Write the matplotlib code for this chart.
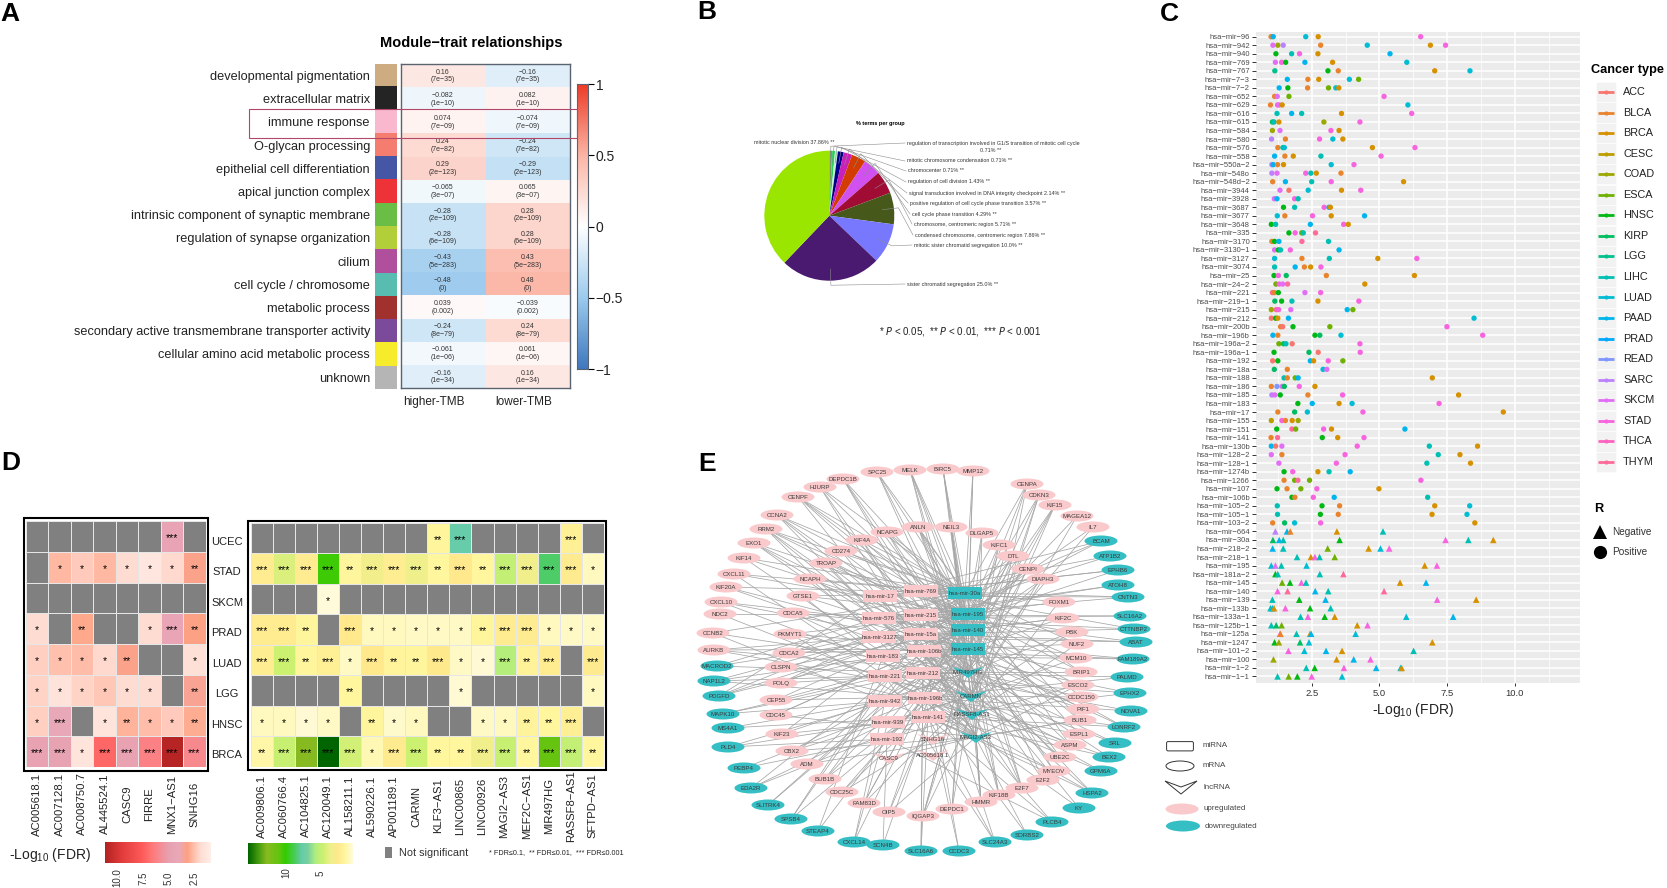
import numpy as np
import matplotlib
matplotlib.use('Agg')
from matplotlib import pyplot as plt
from matplotlib.collections import LineCollection
from matplotlib.colors import LinearSegmentedColormap, ListedColormap
from matplotlib.patches import Ellipse, Polygon, Rectangle, FancyBboxPatch

plt.rcParams['font.family'] = ['Liberation Sans', 'DejaVu Sans']
plt.rcParams['mathtext.default'] = 'regular'

W, H = 1667, 888
MINUS = '\u2212'

# panel A
module_names = ['developmental pigmentation', 'extracellular matrix', 'immune response', 'O-glycan processing',
                'epithelial cell differentiation', 'apical junction complex',
                'intrinsic component of synaptic membrane', 'regulation of synapse organization', 'cilium',
                'cell cycle / chromosome', 'metabolic process', 'secondary active transmembrane transporter activity',
                'cellular amino acid metabolic process', 'unknown']
module_colors = ['#CDAC82', '#242424', '#F9B8CE', '#F47D6F', '#4556A5', '#EE3338', '#6ABD45', '#B2CF3A', '#B0509D',
                 '#58BDB0', '#A0312F', '#7B4A9B', '#F7EC2B', '#B5B5B5']
module_r = [0.16, -0.082, 0.074, 0.24, 0.29, -0.065, -0.28, -0.28, -0.43, -0.48, 0.039, -0.24, -0.061, -0.16]
module_p = ['7e-35', '1e-10', '7e-09', '7e-82', '2e-123', '3e-07', '2e-109', '6e-109', '5e-283', '0', '0.002',
            '8e-79', '1e-06', '1e-34']
trait_names = ['higher-TMB', 'lower-TMB']

# panel B
pie_labels = ['regulation of transcription involved in G1/S transition of mitotic cell cycle\n0.71% **',
              'mitotic chromosome condensation 0.71% **', 'chromocenter 0.71% **',
              'regulation of cell division 1.43% **',
              'signal transduction involved in DNA integrity checkpoint 2.14% **',
              'positive regulation of cell cycle phase transition 3.57% **',
              'cell cycle phase transition 4.29% **', 'chromosome, centromeric region 5.71% **',
              'condensed chromosome, centromeric region 7.86% **', 'mitotic sister chromatid segregation 10.0% **',
              'sister chromatid segregation 25.0% **', 'mitotic nuclear division 37.86% **']
pie_values = [0.71, 0.71, 0.71, 1.43, 2.14, 3.57, 4.29, 5.71, 7.86, 10.0, 25.0, 37.86]
pie_colors = ['#7C9468', '#33D060', '#C4F2D0', '#000088', '#C820B8', '#D23C00', '#D050F0', '#A00C34', '#46591A',
              '#7878FF', '#4A1A70', '#9AE600']
pie_label_x = [907, 907, 908, 908, 909, 910, 912, 914, 915, 914, 907, 754]
pie_label_y = [143, 161, 171, 182, 193, 203, 214, 224, 235, 245, 284, 143]

# panel C
cancer_types = ['ACC', 'BLCA', 'BRCA', 'CESC', 'COAD', 'ESCA', 'HNSC', 'KIRP', 'LGG', 'LIHC', 'LUAD', 'PAAD', 'PRAD',
                'READ', 'SARC', 'SKCM', 'STAD', 'THCA', 'THYM']
cancer_colors = ['#F8766D', '#E9842C', '#D69100', '#BC9D00', '#9CA700', '#6FB000', '#00B813', '#00BD61', '#00C08E',
                 '#00C0B4', '#00BDD4', '#00B5EE', '#00A7FF', '#7F96FF', '#BC81FF', '#E26EF7', '#F863DF', '#FF62BF',
                 '#FF6A9A']
mir_suffix = ['96', '942', '940', '769', '767', '7-3', '7-2', '652', '629', '616', '615', '584', '580', '576', '558',
              '550a-2', '548o', '548d-2', '3944', '3928', '3687', '3677', '3648', '335', '3170', '3130-1', '3127',
              '3074', '25', '24-2', '221', '219-1', '215', '212', '200b', '196b', '196a-2', '196a-1', '192', '18a',
              '188', '186', '185', '183', '17', '155', '151', '141', '130b', '128-2', '128-1', '1274b', '1266', '107',
              '106b', '105-2', '105-1', '103-2', '664', '30a', '218-2', '218-1', '195', '181a-2', '145', '140', '139',
              '133b', '133a-1', '125b-1', '125a', '1247', '101-2', '100', '1-2', '1-1']
n_positive = 58
mir_values = [
    [1.0, 1.08, 2.28, 2.74, 6.52], [1.07, 1.25, 1.45, 2.83, 4.55, 6.88, 7.44], [1.18, 1.76, 2.05, 2.73, 5.39],
    [1.16, 1.39, 1.54, 2.25, 3.27, 6.01], [1.14, 3.1, 3.48, 7.04, 8.34], [1.6, 2.36, 2.76, 3.89, 4.23],
    [1.3, 1.62, 2.35, 3.12, 3.39, 3.5], [1.13, 1.23, 1.66, 5.17], [0.98, 1.24, 1.3, 1.41, 6.05],
    [1.22, 1.76, 2.13, 3.6, 6.19], [1.05, 1.11, 1.29, 2.95, 4.28], [1.05, 1.33, 3.21, 3.51],
    [1.02, 1.53, 2.79, 3.28, 3.65], [1.25, 1.44, 1.49, 4.74, 6.31], [1.13, 1.51, 1.82, 2.84, 5.06],
    [1.03, 1.08, 1.24, 1.46, 3.22, 4.06], [1.03, 1.22, 2.28, 2.47, 2.67, 3.58], [1.06, 1.53, 2.5, 3.22, 5.89],
    [1.33, 1.66, 2.37, 3.6, 4.31], [1.12, 1.22, 1.87, 2.0], [1.46, 1.87, 2.96, 3.14, 3.19],
    [1.23, 1.51, 2.53, 3.22, 4.45], [1.01, 1.17, 2.45, 3.68, 3.85], [1.66, 1.89, 2.13, 2.19, 2.64],
    [1.03, 1.13, 1.29, 2.14, 3.12], [1.13, 1.27, 1.35, 1.71, 3.51], [1.13, 2.14, 3.15, 4.94, 6.38],
    [1.13, 1.89, 2.23, 2.46, 2.84], [1.11, 1.27, 1.56, 3.04, 6.29], [1.18, 1.3, 1.43, 1.61, 4.46],
    [1.05, 1.12, 1.27, 2.25, 2.83], [1.14, 1.39, 1.77, 2.73, 4.24], [1.01, 1.19, 1.28, 1.73, 3.81, 4.02],
    [1.01, 1.17, 1.25, 1.64, 8.49], [1.35, 1.43, 1.81, 3.17, 7.49], [1.07, 1.25, 2.62, 2.8, 3.58, 8.81],
    [1.29, 1.46, 1.55, 1.78, 4.28], [1.11, 2.4, 2.74, 4.29], [1.06, 1.25, 2.45, 2.57, 3.11, 3.65],
    [1.12, 1.6, 2.92, 3.06], [1.48, 1.6, 1.89, 2.0, 6.95], [1.01, 1.22, 1.41, 1.49, 2.04, 2.62],
    [1.03, 1.14, 1.34, 2.36, 3.64, 7.92], [1.99, 2.52, 3.51, 3.99, 7.2], [1.25, 1.87, 2.34, 4.39, 9.57],
    [1.01, 1.4, 1.53, 1.78, 2.0], [1.21, 1.77, 1.91, 2.94, 3.23, 5.94], [1.0, 1.24, 2.89, 3.46, 4.43],
    [1.01, 1.17, 1.4, 4.18, 6.84, 8.62], [1.01, 1.4, 3.73, 7.17, 7.97], [1.29, 3.41, 6.75, 8.36],
    [1.48, 1.8, 2.73, 3.14, 3.92], [1.48, 1.87, 1.99, 2.42, 6.53], [1.22, 1.59, 2.1, 2.69, 4.98],
    [1.77, 1.88, 2.56, 3.33, 6.78], [1.23, 2.88, 3.53, 7.04, 8.33], [1.24, 2.82, 3.48, 6.94, 8.23],
    [1.06, 1.5, 1.87, 2.83, 8.52],
    [1.16, 1.59, 1.71, 3.43, 5.13], [1.07, 1.3, 1.45, 3.53, 7.44, 8.28, 9.2], [1.06, 1.45, 3.09, 4.6, 5.04, 5.36],
    [1.96, 2.47, 2.62, 2.79, 3.35], [1.01, 1.16, 1.38, 2.31, 6.67, 7.12], [1.16, 1.25, 2.8, 3.67],
    [1.41, 1.7, 2.12, 2.29, 5.76, 6.72], [1.24, 1.61, 2.63, 3.11, 5.17], [1.05, 2.04, 3.01, 7.13, 8.57],
    [0.98, 1.05, 1.11, 1.53, 2.44, 3.2], [2.09, 2.36, 2.98, 3.35, 5.99, 7.72], [1.01, 1.19, 1.39, 4.18, 4.56],
    [1.33, 1.35, 1.94, 2.44, 2.48, 4.12], [1.13, 1.29, 2.07, 2.4, 6.95], [1.64, 2.23, 3.03, 3.62, 6.26],
    [1.09, 3.42, 4.05, 4.67], [2.3, 2.61, 3.69, 4.88, 5.78, 5.82], [1.24, 1.65, 1.97, 2.5, 3.62],
]
mir_types = [
    ['BLCA', 'PAAD', 'LUAD', 'BRCA', 'STAD'], ['SKCM', 'COAD', 'SARC', 'BLCA', 'LUAD', 'BRCA', 'STAD'],
    ['HNSC', 'LIHC', 'STAD', 'BRCA', 'PAAD'], ['SKCM', 'STAD', 'HNSC', 'PAAD', 'BRCA', 'LUAD'],
    ['LGG', 'HNSC', 'BLCA', 'BRCA', 'LUAD'], ['PAAD', 'BLCA', 'BRCA', 'LUAD', 'ESCA'],
    ['PAAD', 'HNSC', 'BLCA', 'ESCA', 'LUAD', 'BRCA'], ['BLCA', 'SKCM', 'ESCA', 'STAD'],
    ['BLCA', 'STAD', 'SKCM', 'BRCA', 'LUAD'], ['LIHC', 'PAAD', 'LIHC', 'BRCA', 'STAD'],
    ['KIRP', 'LIHC', 'BRCA', 'COAD', 'STAD'], ['COAD', 'SKCM', 'STAD', 'BRCA'],
    ['SARC', 'BLCA', 'STAD', 'LUAD', 'BRCA'], ['BLCA', 'LGG', 'LUAD', 'BRCA', 'STAD'],
    ['PAAD', 'BLCA', 'BRCA', 'LIHC', 'STAD'], ['SARC', 'PAAD', 'BLCA', 'BRCA', 'LUAD', 'STAD'],
    ['SARC', 'SKCM', 'STAD', 'LIHC', 'BRCA', 'BLCA'], ['BLCA', 'PAAD', 'LIHC', 'STAD', 'BRCA'],
    ['SKCM', 'ACC', 'LUAD', 'BRCA', 'STAD'], ['SKCM', 'PAAD', 'STAD', 'LIHC'],
    ['HNSC', 'LIHC', 'STAD', 'PAAD', 'BRCA'], ['LUAD', 'BLCA', 'STAD', 'BRCA', 'PAAD'],
    ['HNSC', 'LIHC', 'PAAD', 'STAD', 'BRCA'], ['HNSC', 'STAD', 'ESCA', 'LIHC', 'THYM'],
    ['BLCA', 'HNSC', 'PAAD', 'THYM', 'LIHC'], ['SKCM', 'HNSC', 'LIHC', 'STAD', 'PAAD'],
    ['LUAD', 'BLCA', 'LIHC', 'BRCA', 'STAD'], ['LIHC', 'PAAD', 'BLCA', 'BRCA', 'STAD'],
    ['HNSC', 'STAD', 'KIRP', 'BLCA', 'BRCA'], ['ESCA', 'STAD', 'SKCM', 'THYM', 'BRCA'],
    ['THYM', 'BLCA', 'HNSC', 'SKCM', 'STAD'], ['KIRP', 'HNSC', 'LIHC', 'BRCA', 'STAD'],
    ['COAD', 'THYM', 'STAD', 'SKCM', 'PAAD', 'ESCA'], ['ACC', 'HNSC', 'BRCA', 'PAAD', 'LUAD'],
    ['BLCA', 'ACC', 'HNSC', 'ESCA', 'STAD'], ['PAAD', 'BLCA', 'HNSC', 'KIRP', 'LUAD', 'STAD'],
    ['ESCA', 'KIRP', 'LIHC', 'ACC', 'STAD'], ['HNSC', 'KIRP', 'ACC', 'STAD'],
    ['ACC', 'HNSC', 'PAAD', 'BRCA', 'STAD', 'ESCA'], ['KIRP', 'BLCA', 'LUAD', 'SKCM'],
    ['LIHC', 'BLCA', 'ESCA', 'PAAD', 'BRCA'], ['BLCA', 'READ', 'SKCM', 'KIRP', 'STAD', 'BRCA'],
    ['SARC', 'SKCM', 'HNSC', 'BLCA', 'STAD', 'BRCA'], ['HNSC', 'PAAD', 'BRCA', 'LUAD', 'STAD'],
    ['BLCA', 'KIRP', 'LUAD', 'STAD', 'BRCA'], ['CESC', 'STAD', 'BLCA', 'BRCA', 'COAD'],
    ['HNSC', 'THYM', 'ESCA', 'STAD', 'BRCA', 'PAAD'], ['BLCA', 'THYM', 'HNSC', 'BRCA', 'STAD'],
    ['PAAD', 'ACC', 'SKCM', 'STAD', 'LIHC', 'BRCA'], ['SKCM', 'BLCA', 'STAD', 'LIHC', 'BRCA'],
    ['SKCM', 'STAD', 'LIHC', 'BRCA'], ['HNSC', 'STAD', 'BRCA', 'LIHC', 'PAAD'],
    ['BLCA', 'ESCA', 'THYM', 'ESCA', 'STAD'], ['HNSC', 'BLCA', 'ESCA', 'STAD', 'BRCA'],
    ['HNSC', 'BLCA', 'STAD', 'PAAD', 'LIHC'], ['LIHC', 'HNSC', 'BLCA', 'BRCA', 'LUAD'],
    ['LIHC', 'HNSC', 'BLCA', 'BRCA', 'LUAD'], ['BLCA', 'KIRP', 'LUAD', 'STAD', 'BRCA'],
    ['SARC', 'PAAD', 'BLCA', 'BRCA', 'LIHC'], ['KIRP', 'PAAD', 'LIHC', 'HNSC', 'STAD', 'LIHC', 'BRCA'],
    ['PAAD', 'LIHC', 'ESCA', 'BRCA', 'LUAD', 'STAD'], ['LIHC', 'BRCA', 'STAD', 'LIHC', 'ESCA'],
    ['LUAD', 'SKCM', 'LIHC', 'LUAD', 'BRCA', 'STAD'], ['HNSC', 'LIHC', 'LIHC', 'THYM'],
    ['ESCA', 'HNSC', 'STAD', 'LIHC', 'BRCA', 'PAAD'], ['STAD', 'THYM', 'PAAD', 'LIHC', 'THYM'],
    ['LIHC', 'HNSC', 'PAAD', 'STAD', 'BRCA'], ['LIHC', 'PAAD', 'BRCA', 'STAD', 'HNSC', 'LIHC'],
    ['LIHC', 'STAD', 'HNSC', 'BRCA', 'LUAD', 'PAAD'], ['LIHC', 'KIRP', 'ESCA', 'BRCA', 'STAD'],
    ['STAD', 'BLCA', 'LIHC', 'BRCA', 'PAAD', 'LUAD'], ['HNSC', 'COAD', 'KIRP', 'LUAD', 'BRCA'],
    ['STAD', 'LUAD', 'PAAD', 'BRCA', 'LIHC'], ['COAD', 'BRCA', 'PAAD', 'STAD'],
    ['LIHC', 'HNSC', 'STAD', 'PAAD', 'LUAD', 'BRCA'], ['LIHC', 'ESCA', 'HNSC', 'STAD', 'LUAD'],
]
x_ticks_c = [2.5, 5.0, 7.5, 10.0]

# panel D
d_rows = ['UCEC', 'STAD', 'SKCM', 'PRAD', 'LUAD', 'LGG', 'HNSC', 'BRCA']
d_left_cols = ['AC005618.1', 'AC007128.1', 'AC008750.7', 'AL445524.1', 'CASC9', 'FIRRE', 'MNX1-AS1', 'SNHG16']
n = np.nan
d_left = [[n, n, n, n, n, n, 4.6, n],
          [n, 2.8, 2.4, 2.8, 2.0, 1.5, 2.1, 3.4],
          [n, n, n, n, n, n, n, n],
          [2.0, n, 3.1, n, n, 2.0, 4.5, 3.3],
          [2.3, 2.6, 2.7, 2.1, 3.4, n, n, 1.8],
          [2.2, 1.7, 2.2, 2.5, 2.0, 2.0, n, 3.5],
          [2.3, 4.2, n, 1.6, 2.9, 2.7, 2.4, 3.0],
          [4.8, 4.7, 1.6, 7.2, 4.8, 6.3, 11.0, 6.0]]
d_left_stars = [['', '', '', '', '', '', '***', ''],
                ['', '*', '*', '*', '*', '*', '*', '**'],
                ['', '', '', '', '', '', '', ''],
                ['*', '', '**', '', '', '*', '***', '**'],
                ['*', '*', '*', '*', '**', '', '', '*'],
                ['*', '*', '*', '*', '*', '*', '', '**'],
                ['*', '***', '', '*', '**', '*', '*', '**'],
                ['***', '***', '*', '***', '***', '***', '***', '***']]
d_right_cols = ['AC009806.1', 'AC060766.4', 'AC104825.1', 'AC120049.1', 'AL158211.1', 'AL590226.1', 'AP001189.1',
                'CARMN', 'KLF3-AS1', 'LINC00865', 'LINC00926', 'MAGI2-AS3', 'MEF2C-AS1', 'MIR497HG', 'RASSF8-AS1',
                'SFTPD-AS1']
d_right = [[n, n, n, n, n, n, n, n, 2.2, 7.8, n, n, n, n, 2.5, n],
           [2.8, 4.6, 2.8, 10.2, 2.2, 3.7, 2.7, 4.0, 2.1, 3.0, 2.1, 5.3, 3.9, 8.6, 2.9, 1.5],
           [n, n, n, 1.1, n, n, n, n, n, n, n, n, n, n, n, n],
           [2.8, 2.8, 2.2, n, 3.0, 1.5, 1.5, 1.4, 1.4, 1.4, 2.2, 2.8, 2.8, 1.5, 1.4, 1.4],
           [2.7, 5.0, 2.2, 2.5, 1.4, 3.0, 2.3, 2.2, 3.1, 1.4, 1.2, 5.8, 2.4, 2.8, n, 2.9],
           [n, n, n, n, 2.1, n, n, n, n, 1.2, n, n, n, n, n, 1.5],
           [1.5, 1.5, 1.2, 1.4, n, 2.2, 1.3, 1.5, n, n, 1.4, 1.5, 2.3, 2.1, 2.6, n],
           [1.9, 5.2, 12.5, 15.0, 4.8, 1.7, 2.9, 5.0, 2.1, 2.1, 3.9, 5.2, 2.1, 11.0, 5.3, 2.1]]
d_right_stars = [['', '', '', '', '', '', '', '', '**', '***', '', '', '', '', '***', ''],
                 ['***', '***', '***', '***', '**', '***', '***', '***', '**', '***', '**', '***', '***', '***', '***', '*'],
                 ['', '', '', '*', '', '', '', '', '', '', '', '', '', '', '', ''],
                 ['***', '***', '**', '', '***', '*', '*', '*', '*', '*', '**', '***', '***', '*', '*', '*'],
                 ['***', '***', '**', '***', '*', '***', '**', '**', '***', '*', '*', '***', '**', '***', '', '***'],
                 ['', '', '', '', '**', '', '', '', '', '*', '', '', '', '', '', '*'],
                 ['*', '*', '*', '*', '', '**', '*', '*', '', '', '*', '*', '**', '**', '***', ''],
                 ['**', '***', '***', '***', '***', '*', '***', '***', '**', '**', '***', '***', '**', '***', '***', '**']]
d_left_ticks = [10.0, 7.5, 5.0, 2.5]
d_right_ticks = [10, 5]

# panel E
hub_names = ['hsa-mir-17', 'hsa-mir-769', 'hsa-mir-30a', 'hsa-mir-576', 'hsa-mir-215', 'hsa-mir-195', 'hsa-mir-3127',
             'hsa-mir-15a', 'hsa-mir-140', 'hsa-mir-145', 'hsa-mir-183', 'hsa-mir-106b', 'hsa-mir-221', 'hsa-mir-212',
             'MIR497HG', 'hsa-mir-942', 'hsa-mir-196b', 'CARMN', 'hsa-mir-939', 'hsa-mir-141', 'RASSF8-AS1',
             'hsa-mir-192', 'SNHG16', 'MAGI2-AS3', 'CASC9', 'AC005618.1']
hub_x = [880, 921, 965, 879, 921, 968, 879, 921, 968, 968, 883, 924, 885, 923, 968, 885, 925, 971, 888, 928, 972, 887,
         933, 976, 889, 933]
hub_y = [596, 591, 593, 618, 615, 614, 637, 634, 630, 649, 656, 651, 676, 673, 672, 701, 698, 696, 722, 717, 714, 739,
         739, 737, 758, 755]
hub_down = ['hsa-mir-30a', 'hsa-mir-195', 'hsa-mir-140', 'hsa-mir-145', 'MIR497HG', 'CARMN', 'RASSF8-AS1', 'MAGI2-AS3']
hub_lnc = ['MIR497HG', 'CARMN', 'RASSF8-AS1', 'MAGI2-AS3', 'SNHG16', 'CASC9', 'AC005618.1']
gene_names = ['SPC25', 'MELK', 'BIRC5', 'MMP12', 'DEPDC1B', 'HJURP', 'CENPF', 'CCNA2', 'RRM2', 'EXO1', 'KIF14',
              'CXCL11', 'KIF20A', 'CXCL10', 'NDC2', 'CCNB2', 'AURKB', 'MACROD2', 'NAP1L2', 'PDGFD', 'MAPK10', 'MS4A1',
              'PLD4', 'PEBP4', 'EDA2R', 'SLITRK4', 'SPSB4', 'STEAP4', 'CXCL14', 'SCN4B', 'SLC16A6', 'CCDC3', 'SLC24A3',
              'SORBS2', 'PLCB4', 'KY', 'HSPA2', 'GPM6A', 'BEX2', 'SRL', 'LONRF2', 'NOVA1', 'EPHX2', 'PALMD', 'FAM189A2',
              'ABAT', 'CTTNBP2', 'SLC16A2', 'CNTN3', 'ATOH8', 'EPHB6', 'ATP1B2', 'BCAM', 'IL7', 'MAGEA12', 'KIF15',
              'CDKN3', 'CENPA', 'NCAPG', 'ANLN', 'NEIL3', 'DLGAP5', 'KIF4A', 'CD274', 'TROAP', 'NCAPH', 'GTSE1',
              'CDCA5', 'PKMYT1', 'KIFC1', 'DTL', 'CENPI', 'DIAPH3', 'FOXM1', 'KIF2C', 'PBK', 'NUF2', 'MCM10', 'BRIP1',
              'ESCO2', 'CCDC150', 'PIF1', 'BUB1', 'ESPL1', 'ASPM', 'UBE2C', 'MYEOV', 'E2F2', 'E2F7', 'KIF18B', 'HMMR',
              'DEPDC1', 'IQGAP3', 'OIP5', 'FAM83D', 'CDC25C', 'BUB1B', 'ADM', 'CBX2', 'KIF23', 'CDC45', 'CEP55', 'POLQ',
              'CLSPN', 'CDCA2']
gene_x = [877, 910, 943, 973, 843, 820, 798, 777, 766, 754, 744, 734, 726, 721, 720, 713, 714, 717, 714, 719, 723, 728,
          728, 744, 751, 768, 791, 818, 854, 883, 921, 959, 995, 1027, 1052, 1079, 1092, 1101, 1109, 1115, 1124, 1131,
          1130, 1127, 1133, 1136, 1134, 1130, 1128, 1118, 1118, 1110, 1101, 1093, 1077, 1055, 1039, 1027, 887, 918, 951,
          982, 862, 841, 826, 810, 803, 793, 790, 999, 1013, 1028, 1043, 1059, 1063, 1072, 1077, 1076, 1081, 1078, 1082,
          1083, 1080, 1079, 1070, 1060, 1054, 1043, 1022, 999, 981, 952, 923, 889, 864, 842, 825, 807, 792, 782, 776,
          776, 781, 781, 789]
gene_y = [472, 470, 469, 471, 479, 487, 497, 515, 529, 543, 558, 574, 587, 602, 614, 633, 650, 666, 681, 696, 714, 728,
          747, 768, 788, 805, 819, 831, 842, 845, 851, 851, 842, 835, 822, 808, 793, 771, 757, 743, 727, 711, 693, 677,
          659, 642, 629, 616, 597, 585, 570, 556, 541, 527, 516, 505, 495, 484, 532, 527, 527, 533, 540, 551, 563, 579,
          596, 613, 634, 545, 556, 569, 579, 602, 618, 632, 644, 658, 672, 685, 697, 709, 720, 734, 745, 757, 771, 780,
          788, 795, 802, 809, 816, 812, 803, 792, 779, 764, 751, 734, 715, 700, 683, 667, 653]
gene_links = [[2, 5, 9], [2, 5, 8, 14], [2, 8, 9, 17], [2, 5], [5, 9, 14], [2, 8, 17], [2, 5, 8, 9, 20], [2, 5, 9, 14],
              [2, 8, 14, 17, 23], [5, 9, 17], [2, 8, 20], [5, 23], [2, 9, 14], [8, 17], [5, 20], [2, 14], [9, 8, 17],
              [3, 7, 13], [6, 11, 12], [0, 4, 10], [12, 16], [15, 19], [18, 21], [21, 16], [18, 19], [15, 13], [12, 7],
              [10, 21], [18, 16], [21, 19], [19, 13], [16, 11], [19, 4], [16, 7], [19, 13], [16, 4], [19, 11, 12],
              [16, 13], [19, 7], [13, 11], [16, 4, 19], [16, 13], [19, 12], [13, 15], [11, 10], [4, 7, 6], [7, 3],
              [4, 3], [1, 0], [4, 3], [1, 7], [1, 4], [4, 0], [5, 14], [8, 17], [8, 9, 14], [5, 9, 17], [2, 8, 14],
              [2, 5, 9], [2, 5, 8, 9, 14], [8, 9, 17], [5, 14, 23], [2, 8, 17], [2, 9], [5, 8, 14], [2, 9, 20],
              [2, 5, 23], [8, 17], [5, 9, 14], [5, 9, 17], [2, 8, 14], [5, 14], [8, 17], [2, 5, 20], [8, 9],
              [5, 14, 17], [9, 20], [5, 17], [2, 9, 14], [8, 20, 23], [5, 17], [9, 14], [2, 8, 23], [5, 20], [2, 9, 17],
              [8, 14], [9, 23], [5, 14], [2, 8, 20], [5, 9, 17], [8, 14, 23], [2, 5, 17], [9, 14, 20], [2, 8, 23],
              [5, 17], [9, 14, 20], [2, 8], [5, 23], [9, 17], [2, 14, 20], [8, 23], [5, 9, 17], [2, 14], [8, 20],
              [5, 9, 17]]
extra_gene = [0, 1, 3, 4, 5, 7, 8, 9, 11, 13, 15, 16, 18, 19, 20, 22, 24, 26, 28, 30, 32, 34, 36, 38, 40, 42, 44, 46,
              48, 50, 52, 55, 56, 57, 58, 60, 62, 64, 66, 68, 70, 72, 74, 76, 78, 80, 82, 84, 86, 88, 90, 92, 94, 96,
              98, 100, 102, 104]
extra_hub = [14, 20, 8, 17, 23, 20, 5, 14, 2, 9, 23, 14, 16, 7, 13, 15, 11, 21, 15, 13, 12, 21, 4, 12, 7, 11, 6, 1, 3,
             0, 7, 17, 20, 23, 14, 17, 23, 20, 9, 23, 5, 9, 8, 2, 5, 14, 23, 20, 8, 14, 2, 9, 5, 14, 23, 8, 5, 2]
hub_a = [2, 2, 5, 5, 8, 8, 9, 9, 14, 14, 17, 17, 20, 20, 23, 23, 2, 5, 8, 9, 14, 17, 20, 23, 2, 5, 8, 9]
hub_b = [0, 3, 1, 6, 4, 10, 7, 12, 13, 15, 11, 18, 16, 21, 19, 24, 12, 15, 18, 21, 6, 3, 0, 1, 10, 19, 21, 15]
down_genes_from, down_genes_to = 17, 53
e_legend_shapes = ['miRNA', 'mRNA', 'lncRNA', 'upregulated', 'downregulated']

PINK = '#F9C9CB'
TEAL = '#35BFC4'


def px_axes(left, top, right, bottom):
    return fig.add_axes([left / W, 1 - bottom / H, (right - left) / W, (bottom - top) / H])


fig = plt.figure(figsize=(W / 100, H / 100), dpi=100)

# overlay in pixel coordinates for labels, network and boxes
ov = fig.add_axes([0, 0, 1, 1], zorder=10)
ov.set_xlim(0, W)
ov.set_ylim(H, 0)
ov.axis('off')
ov.patch.set_visible(False)

for letter, lx, ly in [('A', 10, 14), ('B', 707, 12), ('C', 1169, 14), ('D', 11, 463), ('E', 707, 464)]:
    ov.text(lx, ly, letter, fontsize=19, fontweight='bold', ha='center', va='center', color='black')

# ---- A
trait_cmap = LinearSegmentedColormap.from_list('bwr_trait', [(0, '#3F78BE'), (0.25, '#9CCBEE'), (0.5, '#FFFFFF'),
                                                             (0.75, '#FBB5A5'), (1, '#EE3B27')])
ax = px_axes(375, 64, 397, 389)
ax.imshow(np.arange(14).reshape(-1, 1), aspect='auto', interpolation='nearest', cmap=ListedColormap(module_colors))
ax.axis('off')

ax = px_axes(400.5, 64.5, 570, 388.5)
r = np.array(module_r)
ax.imshow(np.column_stack([r, -r]), aspect='auto', cmap=trait_cmap, vmin=-1, vmax=1, interpolation='nearest')
for i, (val, p) in enumerate(zip(module_r, module_p)):
    for j, sign in enumerate([1, -1]):
        v = sign * val
        s = ('%.2g' % v).replace('-', MINUS)
        ax.text(j, i, s + '\n(' + p.replace('-', MINUS) + ')', fontsize=5, ha='center', va='center',
                color='#333333', linespacing=1.15)
ax.set_xticks([])
ax.set_yticks([])
for sp in ax.spines.values():
    sp.set_color('#5A6470')
    sp.set_linewidth(1)

for i, name in enumerate(module_names):
    ov.text(370, 77 + i * 23.2, name, fontsize=9.2, ha='right', va='center', color='#222222')
ov.text(471, 43, 'Module' + MINUS + 'trait relationships', fontsize=10.5, fontweight='bold', ha='center', va='center')
for name, tx in zip(trait_names, [434, 524]):
    ov.text(tx, 402, name, fontsize=8.5, ha='center', va='center', color='#222222')

ax = px_axes(577, 84, 587.5, 369)
ax.imshow(np.linspace(1, -1, 256).reshape(-1, 1), aspect='auto', cmap=trait_cmap, vmin=-1, vmax=1,
          extent=[0, 1, -1, 1])
ax.set_xticks([])
ax.yaxis.tick_right()
ax.set_yticks([-1, -0.5, 0, 0.5, 1])
ax.set_yticklabels([MINUS + '1', MINUS + '0.5', '0', '0.5', '1'], fontsize=10, color='#222222')
ax.tick_params(axis='y', length=4, width=0.8, pad=2)
for sp in ax.spines.values():
    sp.set_color('#5A6470')
    sp.set_linewidth(0.8)

ov.add_patch(Rectangle((249, 109.3), 328, 28.7, fill=False, edgecolor='#B2476A', linewidth=0.8))

# ---- B
ax = px_axes(764.3, 150.7, 894.3, 280.7)
wedges, _ = ax.pie(pie_values, colors=pie_colors, startangle=90, counterclock=False, radius=1)
ax.set_xlim(-1, 1)
ax.set_ylim(-1, 1)
cx, cy, rad = 829.3, 215.7, 65
for wedge, label, lx, ly in zip(wedges, pie_labels, pie_label_x, pie_label_y):
    mid = np.radians((wedge.theta1 + wedge.theta2) / 2)
    px, py = cx + 0.82 * rad * np.cos(mid), cy - 0.82 * rad * np.sin(mid)
    qx, qy = cx + 1.07 * rad * np.cos(mid), cy - 1.07 * rad * np.sin(mid)
    if lx > cx:
        ov.plot([px, qx, lx - 2], [py, qy, ly], color='#8C8C8C', lw=0.4, zorder=1)
    if '\n' in label:
        first, second = label.split('\n')
        ov.text(lx, ly, first, fontsize=3.9, va='center', ha='left', color='#333333')
        ov.text(991, ly + 7, second, fontsize=3.9, va='center', ha='center', color='#333333')
    else:
        ov.text(lx, ly, label, fontsize=3.9, va='center', ha='left', color='#333333')
ov.text(880, 123, '% terms per group', fontsize=4, fontweight='bold', ha='center', va='center')
ov.text(960, 331, r'* $\mathit{P}$ < 0.05,  ** $\mathit{P}$ < 0.01,  *** $\mathit{P}$ < 0.001', fontsize=7,
        ha='center', va='center', color='#222222')

# ---- C
ax = px_axes(1256, 32, 1580, 683)
ax.set_facecolor('#EBEBEB')
ax.set_xlim(0.445, 12.4)
ax.set_ylim(75.77, -0.55)
rows = np.arange(len(mir_suffix))
ax.hlines(rows, 0.445, 12.4, color='white', lw=1.1, zorder=1)
for tick in x_ticks_c:
    ax.axvline(tick, color='white', lw=1.1, zorder=1)
for tick in [1.25, 3.75, 6.25, 8.75, 11.25]:
    ax.axvline(tick, color='white', lw=0.5, zorder=1)
color_of = dict(zip(cancer_types, cancer_colors))
for i, (vals, kinds) in enumerate(zip(mir_values, mir_types)):
    marker = 'o' if i < n_positive else '^'
    ax.scatter(vals, [i] * len(vals), c=[color_of[k] for k in kinds], s=15 if i < n_positive else 22, marker=marker,
               linewidths=0, zorder=3)
ax.set_yticks(rows)
ax.set_yticklabels([('hsa-mir-' + s).replace('-', MINUS) for s in mir_suffix], fontsize=5.5, color='#4D4D4D')
ax.set_xticks(x_ticks_c)
ax.set_xticklabels(['2.5', '5.0', '7.5', '10.0'], fontsize=6.8, color='#333333')
ax.tick_params(axis='y', length=3, width=0.7, pad=1.5, color='#333333')
ax.tick_params(axis='x', length=2.5, width=0.7, pad=2, color='#333333')
for sp in ax.spines.values():
    sp.set_visible(False)
ov.text(1413, 710, r'-Log$_{10}$ (FDR)', fontsize=10, ha='center', va='center', color='#222222')

ov.text(1591, 70, 'Cancer type', fontsize=9.2, fontweight='bold', ha='left', va='center')
for i, (name, col) in enumerate(zip(cancer_types, cancer_colors)):
    ky = 92 + i * 20.55
    ov.add_patch(Rectangle((1596, ky - 10.2), 19.5, 20.4, facecolor='#F2F2F2', edgecolor='white', linewidth=0.4))
    ov.plot([1597.5, 1614], [ky, ky], color=col, lw=2, solid_capstyle='butt')
    ov.plot([1605.7], [ky], 'o', color=col, ms=3, mew=0)
    ov.text(1623, ky, name, fontsize=7.8, ha='left', va='center', color='#222222')
ov.text(1599, 509, 'R', fontsize=9.2, fontweight='bold', ha='center', va='center')
ov.plot([1599.5], [532], '^', color='black', ms=9.5, mew=0)
ov.plot([1599.5], [552], 'o', color='black', ms=9.5, mew=0)
ov.text(1612, 532, 'Negative', fontsize=7.2, ha='left', va='center', color='#333333')
ov.text(1612, 552, 'Positive', fontsize=7.2, ha='left', va='center', color='#333333')

# ---- D
left_cmap = LinearSegmentedColormap.from_list('d_left', [(0, '#FFEFE8'), (0.1, '#FFDCD2'), (0.17, '#FFBBA6'),
                                                         (0.22, '#FFA080'), (0.3, '#E9A9B9'), (0.4, '#E8A0B0'),
                                                         (0.55, '#FF7A7A'), (0.65, '#FF5A5A'), (0.85, '#E03A3A'),
                                                         (1, '#B22222')])
left_cmap.set_bad('#808080')
right_stops = [(1, '#FFFBDD'), (2, '#FFF7A0'), (3, '#FFE98C'), (4, '#EEF08C'), (5, '#CCF070'), (6, '#B0EE80'),
               (7, '#78CFA0'), (7.8, '#66CCAA'), (8.6, '#4DCC66'), (10, '#33CC00'), (11, '#66C410'), (12.5, '#88BB20'),
               (13.5, '#4CA010'), (15, '#006400')]
right_cmap = LinearSegmentedColormap.from_list('d_right', [((v - 1) / 14, c) for v, c in right_stops])
right_cmap.set_bad('#808080')


def draw_heat(box, values, stars, cmap, vmin, vmax, labels, label_y):
    ax = px_axes(*box)
    masked = np.ma.masked_invalid(np.array(values))
    ax.pcolormesh(masked, cmap=cmap, vmin=vmin, vmax=vmax, edgecolors='#E6E6E6', linewidth=0.5)
    ax.set_ylim(len(values), 0)
    ax.axis('off')
    cw = (box[2] - box[0]) / len(labels)
    for r_i, row in enumerate(stars):
        for c_i, star in enumerate(row):
            if star:
                ax.text(c_i + 0.5, r_i + 0.56, star, fontsize=7.5, ha='center', va='center', color='black')
    for c_i, name in enumerate(labels):
        ov.text(box[0] + (c_i + 0.5) * cw, label_y, name.replace('-', MINUS), fontsize=8.1, rotation=90,
                ha='center', va='center', color='#222222')


draw_heat((26, 521, 205.7, 767), d_left, d_left_stars, left_cmap, 1, 11.15, d_left_cols, 804)
draw_heat((250.6, 523, 604, 766.7), d_right, d_right_stars, right_cmap, 1, 15, d_right_cols, 806)
ov.add_patch(Rectangle((23.7, 518), 184.3, 252.7, fill=False, edgecolor='black', linewidth=1.5))
ov.add_patch(Rectangle((247.8, 520.7), 357.9, 249.3, fill=False, edgecolor='black', linewidth=1.5))
for i, name in enumerate(d_rows):
    ov.text(227, 541.7 + i * 30.5, name, fontsize=8, ha='center', va='center', color='#222222')

ov.text(50, 855, r'-Log$_{10}$ (FDR)', fontsize=10, ha='center', va='center', color='#222222')
ax = px_axes(105, 842, 210, 863)
ax.imshow(np.linspace(11.15, 1, 256).reshape(1, -1), aspect='auto', cmap=left_cmap, vmin=1, vmax=11.15,
          extent=[11.15, 1, 0, 1])
ax.axis('off')
for tick, tx in zip(d_left_ticks, [117, 143, 169, 195]):
    ov.text(tx, 878, '%.1f' % tick, fontsize=7, rotation=90, ha='center', va='center', color='#333333')
ax = px_axes(248, 843, 353, 864)
ax.imshow(np.linspace(15, 1, 256).reshape(1, -1), aspect='auto', cmap=right_cmap, vmin=1, vmax=15,
          extent=[15, 1, 0, 1])
ax.axis('off')
for tick, tx in zip(d_right_ticks, [286, 321]):
    ov.text(tx, 873, str(tick), fontsize=7, rotation=90, ha='center', va='center', color='#333333')
ov.add_patch(Rectangle((384.5, 847), 7.5, 11, facecolor='#808080', edgecolor='none'))
ov.text(399, 853, 'Not significant', fontsize=7.8, ha='left', va='center', color='#333333')
ov.text(488.6, 853, '* FDR\u22640.1,  ** FDR\u22640.01,  *** FDR\u22640.001', fontsize=5.2, ha='left', va='center',
        color='#222222')

# ---- E
segments = []
for gx, gy, links in zip(gene_x, gene_y, gene_links):
    for h in links:
        segments.append([(gx, gy), (hub_x[h], hub_y[h])])
for g, h in zip(extra_gene, extra_hub):
    segments.append([(gene_x[g], gene_y[g]), (hub_x[h], hub_y[h])])
for a, b in zip(hub_a, hub_b):
    segments.append([(hub_x[a], hub_y[a]), (hub_x[b], hub_y[b])])
ov.add_collection(LineCollection(segments, colors='#A6A6A6', linewidths=0.55, zorder=1))

for i, (name, gx, gy) in enumerate(zip(gene_names, gene_x, gene_y)):
    down = down_genes_from <= i < down_genes_to
    ov.add_patch(Ellipse((gx, gy), 33, 11, facecolor=TEAL if down else PINK, edgecolor='none', zorder=2))
    ov.text(gx, gy, name, fontsize=4.4, ha='center', va='center', color='#3A3A3A', zorder=3)

for name, hx, hy in zip(hub_names, hub_x, hub_y):
    col = TEAL if name in hub_down else PINK
    if name in hub_lnc:
        ov.add_patch(Polygon([(hx - 16, hy - 5), (hx, hy - 1), (hx + 16, hy - 5), (hx, hy + 6)], closed=True,
                             facecolor=col, edgecolor='none', zorder=2))
    else:
        ov.add_patch(Rectangle((hx - 17, hy - 6), 34, 12, facecolor=col, edgecolor='none', zorder=2))
    ov.text(hx, hy, name, fontsize=4.3, ha='center', va='center', color='#3A3A3A', zorder=3)

# legend of E
ov.add_patch(FancyBboxPatch((1167, 742), 26, 8.5, boxstyle='round,pad=0.4,rounding_size=1.5', fill=False,
                            edgecolor='#333333', linewidth=0.7))
ov.add_patch(Ellipse((1180, 766), 28, 10, fill=False, edgecolor='#333333', linewidth=0.7))
ov.add_patch(Polygon([(1165, 781), (1181, 787), (1197, 781), (1181, 794)], closed=True, fill=False,
                     edgecolor='#333333', linewidth=0.7))
ov.add_patch(Ellipse((1182, 809), 33, 11, facecolor=PINK, edgecolor='none'))
ov.add_patch(Ellipse((1183, 826), 34, 11, facecolor=TEAL, edgecolor='none'))
for name, tx, ty in zip(e_legend_shapes, [1203, 1203, 1204, 1204, 1205], [745, 765, 787, 808, 826]):
    ov.text(tx, ty, name, fontsize=5.8, ha='left', va='center', color='#444444')

fig.savefig('out.png', dpi=100)
